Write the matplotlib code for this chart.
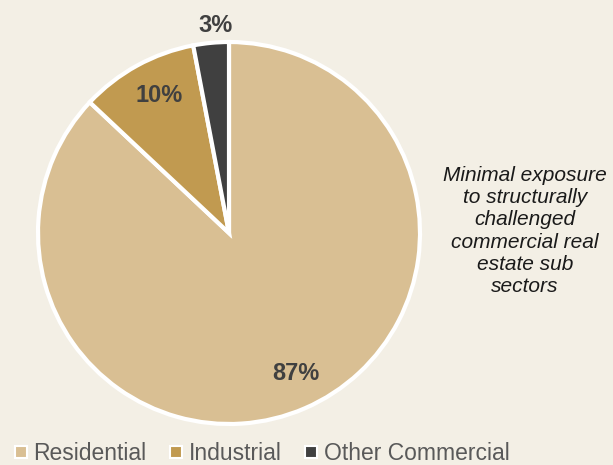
import numpy as np
import matplotlib.pyplot as plt
from matplotlib.lines import Line2D

sectors = ['Residential', 'Industrial', 'Other Commercial']
shares = [87, 10, 3]
colors = ['#D9BF93', '#C19A50', '#404040']
label_dist = [0.80, 0.82, 1.09]

note = 'Minimal exposure\nto structurally\nchallenged\ncommercial real\nestate sub\nsectors'

bg = '#F3EFE5'
plt.rcParams['font.family'] = ['Liberation Sans', 'DejaVu Sans']

fig = plt.figure(figsize=(6.13, 4.65), dpi=100, facecolor=bg)
ax = fig.add_axes([(229 - 191) / 613, (232 - 191) / 465, 382 / 613, 382 / 465])
ax.set_facecolor(bg)

wedges, _ = ax.pie(shares, colors=colors, startangle=90, counterclock=False,
                   wedgeprops=dict(edgecolor='white', linewidth=3))
ax.set_aspect('equal')
ax.set_xlim(-1, 1)
ax.set_ylim(-1, 1)

# percentage labels, placed along each wedge's mid angle
for w, val, d in zip(wedges, shares, label_dist):
    ang = np.deg2rad((w.theta1 + w.theta2) / 2)
    ax.text(d * np.cos(ang) + 0.03, d * np.sin(ang), '%d%%' % val, ha='center', va='center',
            fontsize=17, fontweight='bold', color='#404040', clip_on=False)

fig.text(525 / 613, 1 - 231 / 465, note, ha='center', va='center', fontsize=15,
         style='italic', color='#1A1A1A', linespacing=1.22)

handles = [Line2D([], [], marker='s', linestyle='none', markersize=9,
                  markerfacecolor=c, markeredgecolor='white', markeredgewidth=1.5)
           for c in colors]
fig.legend(handles, sectors, loc='lower left', bbox_to_anchor=(0.0, -0.029), ncol=3,
           frameon=False, fontsize=16.5, labelcolor='#595959', handlelength=0.6,
           handletextpad=0.25, columnspacing=1.0, borderaxespad=0.2)

fig.savefig('out.png', dpi=100, facecolor=bg)
